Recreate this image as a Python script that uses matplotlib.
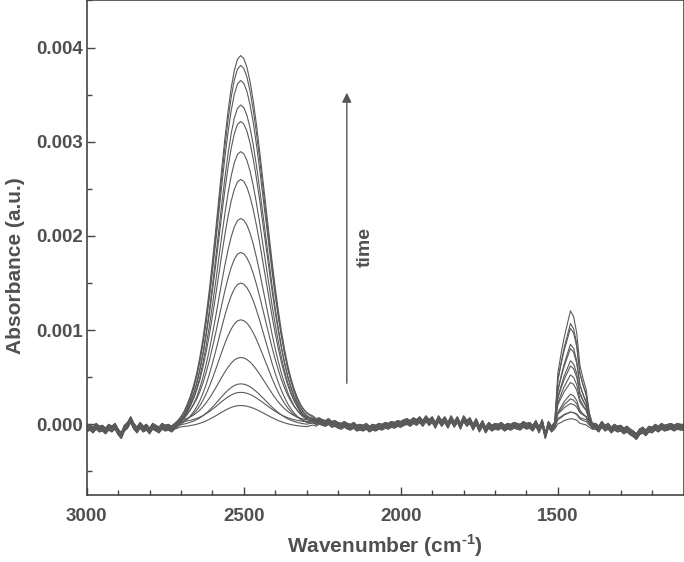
import numpy as np
import matplotlib
matplotlib.use('Agg')
import matplotlib.pyplot as plt
from matplotlib.ticker import MultipleLocator, FormatStrFormatter

plt.rcParams['font.family'] = ['Liberation Sans', 'DejaVu Sans']
plt.rcParams['font.weight'] = 'bold'
plt.rcParams['mathtext.fontset'] = 'custom'
plt.rcParams['mathtext.rm'] = 'Liberation Sans:bold'
plt.rcParams['mathtext.bf'] = 'Liberation Sans:bold'

# wavenumber grid of the spectra (cm-1), 10 cm-1 steps
wn = np.arange(3000, 1099, -10)

# baseline (units of 1e-5 a.u.), 3000 -> 1100
baseline = [
    -5, -3, -6, -2, -5, -4, -7, -3, -5, -2, -8, -12, -4, -1, 5, -2, -6, -1, -5, -3,
    -7, -2, -4, -6, -2, -4, -3, -5, -2, -1,
    0, 0, 0, 0, 0, 0, 0, 0, 0, 0, 0, 0, 0, 0, 0, 0, 0, 0, 0, 0,
    0, 0, 0, 0, 0, 0, 0, 0, 0, 0, 0, 0, 0, 0, 0, 0, 0, 0, 0, 0,
    0, 1, 2, 1, 3,
    2, 1, 3, 0, 1, -1, -2, 0, -2, -3, -1, -4, -3, -4, -2, -5, -3, -4, -2, -3,
    -1, -2, 0, -1, 1, 0,
    2, 3, 1, 4, 2, 5, 1, 6, 2, 5, -1, 6, 1, 5, -1, 6, 0, 5, -2, 6, 1, 4, -3, 3,
    -5, 1, -6, -1, -4, -2, -3, -1, -4, -2, -3, -1, -2, -3, 0, -2, -1, -4, 1, -6,
    2, -12, 0, -5,
    -2, 0, 0, 1, 1, 1, 1, 1, 0, 0, 0, -1, -2,
    -2, -5, 0, -4, -2, -6, -3, -5, -4, -7, -5, -8, -10, -13, -8, -6, -9, -5, -6, -3,
    -5, -2, -4, -3, -2, -4, -2, -3, -3,
]

# normalised band shapes
band1_start = 2720
band1_shape = [
    0, 0.006, 0.015, 0.030, 0.050, 0.073, 0.101, 0.135, 0.178, 0.230,
    0.291, 0.360, 0.438, 0.520, 0.607, 0.693, 0.775, 0.849, 0.912, 0.960,
    0.990, 1.000, 0.992, 0.968, 0.929, 0.877, 0.814, 0.744, 0.668, 0.591,
    0.514, 0.440, 0.370, 0.306, 0.249, 0.200, 0.157, 0.122, 0.093, 0.070,
    0.051, 0.037, 0.027, 0.018, 0.011, 0.006, 0.003, 0,
]
band2_start = 1510
band2_shape = [0.02, 0.45, 0.62, 0.76, 0.88, 1.0, 0.95, 0.80, 0.52, 0.40, 0.30, 0.10, 0.0]

# peak heights of each spectrum (a.u.), in time order
h1 = [0.00023, 0.00032, 0.00044, 0.00068, 0.00111, 0.00152, 0.00180, 0.00219,
      0.00259, 0.00291, 0.00321, 0.00342, 0.00362, 0.00382, 0.00390]
h2 = [0.00008, 0.00010, 0.00013, 0.00018, 0.00026, 0.00033, 0.00041, 0.00052,
      0.00060, 0.00068, 0.00079, 0.00087, 0.00098, 0.00107, 0.00118]
# small baseline shift of each spectrum (a.u.)
offsets = [-3e-5, 2e-5, -1e-5, 3e-5, 0, -2e-5, 2.5e-5, -0.5e-5,
           1e-5, -1.5e-5, 0.5e-5, -3e-5, 3e-5, -1e-5, 1.5e-5]

base = np.array(baseline) * 1e-5
b1 = np.zeros(len(wn))
i1 = int(np.where(wn == band1_start)[0][0])
b1[i1:i1 + len(band1_shape)] = band1_shape
b2 = np.zeros(len(wn))
i2 = int(np.where(wn == band2_start)[0][0])
b2[i2:i2 + len(band2_shape)] = band2_shape

tc = '#505050'
fig = plt.figure(figsize=(6.84, 5.62), dpi=100)
ax = fig.add_axes([0.1268, 0.1192, 0.8725, 0.880])

for k in range(len(h1)):
    y = base + offsets[k] + h1[k] * b1 + h2[k] * b2
    ax.plot(wn, y, color='#5a5a5a', lw=0.8)

ax.set_xlim(3000, 1100)
ax.set_ylim(-0.00075, 0.0045)
ax.xaxis.set_major_locator(MultipleLocator(500))
ax.xaxis.set_minor_locator(MultipleLocator(100))
ax.yaxis.set_major_locator(MultipleLocator(0.001))
ax.yaxis.set_minor_locator(MultipleLocator(0.0005))
ax.yaxis.set_major_formatter(FormatStrFormatter('%.3f'))
ax.tick_params(which='both', direction='in', color='#444444', width=1.0,
               labelsize=13.5, labelcolor=tc, top=False, right=False)
ax.tick_params(which='major', length=6)
ax.tick_params(which='minor', length=3.5)
ax.tick_params(axis='x', which='major', pad=9)
ax.tick_params(axis='y', which='major', pad=3)
for s in ax.spines.values():
    s.set_color('#444444')
    s.set_linewidth(1.2)

ax.set_xlabel('Wavenumber (cm$^{\\text{-}1}$)', fontsize=15, fontweight='bold', color=tc)
ax.set_ylabel('Absorbance (a.u.)', fontsize=15, fontweight='bold', color=tc)
ax.xaxis.set_label_coords(0.5, -0.075)
ax.yaxis.set_label_coords(-0.103, 0.4636)

ax.annotate('', xy=(2172, 0.00352), xytext=(2172, 0.000436),
            arrowprops=dict(arrowstyle='-|>', color='#555555', lw=1.0,
                            mutation_scale=14, shrinkA=0, shrinkB=0))
ax.text(2114, 0.00188, 'time', rotation=90, fontsize=14, color=tc,
        ha='center', va='center')

fig.savefig('out.png', dpi=100)
